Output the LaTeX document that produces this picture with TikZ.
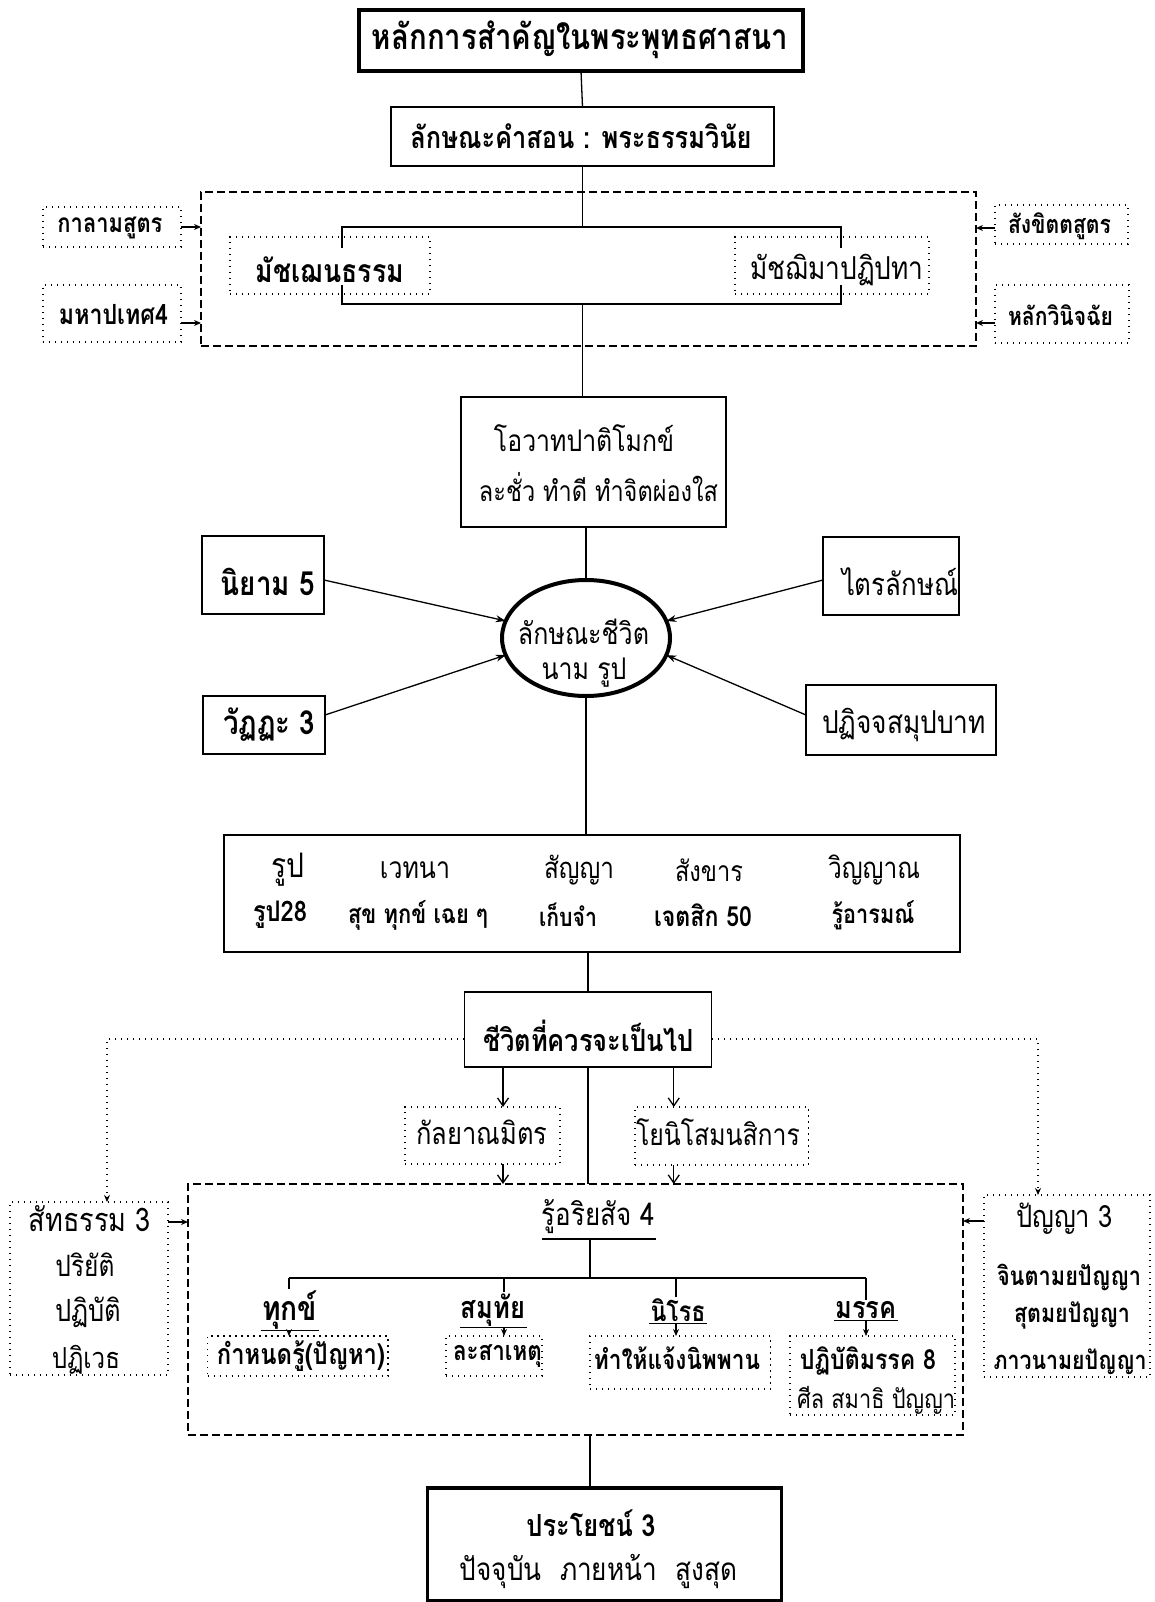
\documentclass[tikz,border=0pt]{standalone}
\usepackage{fontspec}
\newfontfamily\thai[Script=Thai]{Loma}
\usetikzlibrary{shapes.geometric,arrows.meta,calc}
\newcommand{\fw}[2]{\resizebox{#1pt}{!}{\scalebox{1}[1.2]{#2}}}
\begin{document}
\begin{tikzpicture}[x=1pt,y=-1pt,font=\thai,
  box/.style={draw,line width=1.3pt,inner sep=0pt,outer sep=0pt},
  thickbox/.style={draw,line width=3.5pt,inner sep=0pt,outer sep=0pt},
  dotbox/.style={draw,line width=1.1pt,dash pattern=on 1.4pt off 4.6pt,inner sep=0pt,outer sep=0pt},
  dashbox/.style={draw,line width=1.3pt,dash pattern=on 8pt off 4pt,inner sep=0pt,outer sep=0pt},
  txt/.style={inner sep=0pt,outer sep=0pt},
  hd/.style={inner sep=1.5pt,outer sep=0pt},
  ln/.style={line width=1.3pt},
  dotln/.style={line width=1.1pt,dash pattern=on 1.4pt off 4.6pt},
  arr/.style={ln,-{Stealth[length=10pt,width=7pt]}},
  sarr/.style={ln,-{Stealth[length=7pt,width=6pt]}},
  varr/.style={ln,-{Straight Barb[length=8pt,width=11pt]}}]
\fill[white] (0,0) rectangle (1155,1602);
\useasboundingbox (0,0) rectangle (1155,1602);

% ---------- top part ----------
\node[thickbox,minimum width=444pt,minimum height=61pt] (title) at (581,40.5) {};
\node[txt] (ttitle) at (580,40) {\fw{416}{\bfseries หลักการสำคัญในพระพุทธศาสนา}};
\node[box,minimum width=383pt,minimum height=59pt] (lak) at (582.5,136.5) {};
\node[txt] (tlak) at (581,136) {\fw{341}{\bfseries ลักษณะคำสอน : พระธรรมวินัย}};
\draw[ln] (title.south) -- (lak.north);

\node[dashbox,minimum width=775pt,minimum height=154pt] (dbox1) at (588.5,269) {};
\node[dotbox,minimum width=138pt,minimum height=40pt] (kalama) at (112,227) {};
\node[txt] (tkalama) at (110,228) {\fw{105}{\bfseries กาลามสูตร}};
\node[dotbox,minimum width=138pt,minimum height=57pt] (maha) at (112,313.5) {};
\node[txt] (tmaha) at (113.5,315) {\fw{109}{\bfseries มหาปเทศ4}};
\node[dotbox,minimum width=133pt,minimum height=39pt] (sank) at (1061.5,224.5) {};
\node[txt] (tsank) at (1059.5,226) {\fw{103}{\bfseries สังขิตตสูตร}};
\node[dotbox,minimum width=134pt,minimum height=58pt] (vini) at (1062,314) {};
\node[txt] (tvini) at (1060.5,315) {\fw{105}{\bfseries หลักวินิจฉัย}};
\node[dotbox,minimum width=200pt,minimum height=57pt] (majjhena) at (330,265.5) {};
\node[txt] (tmajjhena) at (330,270) {\fw{148}{\bfseries มัชเฌนธรรม}};
\node[dotbox,minimum width=194pt,minimum height=57pt] (majjhima) at (832,265.5) {};
\node[txt] (tmajjhima) at (837,270) {\fw{173}{มัชฌิมาปฏิปทา}};

\coordinate (m1) at ($(maha.east)+(0,9.5)$);
\coordinate (s1) at ($(sank.west)+(0,3.5)$);
\coordinate (v1) at ($(vini.west)+(0,9)$);
\draw[sarr] (kalama.east) -- (kalama.east -| dbox1.west);
\draw[sarr] (m1) -- (m1 -| dbox1.west);
\draw[sarr] (s1) -- (s1 -| dbox1.east);
\draw[sarr] (v1) -- (v1 -| dbox1.east);

\coordinate (bt) at (582.5,227);
\coordinate (btl) at (342,227); \coordinate (btr) at (841,227);
\coordinate (btl2) at (342,248); \coordinate (btr2) at (841,248);
\coordinate (bb) at (582.5,304);
\coordinate (bbl) at (342,304); \coordinate (bbr) at (841,304);
\coordinate (bbl2) at (342,285); \coordinate (bbr2) at (841,285);
\draw[ln] (lak.south) -- (bt);
\draw[line width=1.6pt] (btl2) -- (btl) -- (btr) -- (btr2);
\draw[line width=1.6pt] (bbl2) -- (bbl) -- (bbr) -- (bbr2);

% ---------- middle ----------
\node[box,minimum width=265pt,minimum height=130pt] (ovada) at (593.5,462) {};
\node[txt] (tovada1) at (584,438) {\fw{180}{โอวาทปาติโมกข์}};
\node[txt] (tovada2) at (598.5,487) {\fw{239}{ละชั่ว ทำดี ทำจิตผ่องใส}};
\draw[ln] (bb) -- (bb |- ovada.north);

\node[ellipse,draw,line width=4pt,minimum width=168pt,minimum height=116pt,inner sep=0pt,outer sep=0pt] (ell) at (586,638) {};
\node[txt] (tell1) at (583.5,632) {\fw{131}{ลักษณะชีวิต}};
\node[txt] (tell2) at (584,673) {\fw{85}{นาม รูป}};
\draw[ln] (ovada.south -| ell.north) -- (ell.north);

\node[box,minimum width=122pt,minimum height=78pt] (niyama) at (263,575) {};
\node[txt] (tniyama) at (268,582) {\fw{94}{\bfseries นิยาม 5}};
\node[box,minimum width=122pt,minimum height=58pt] (vatta) at (264,725) {};
\node[txt] (tvatta) at (269,725) {\fw{92}{\bfseries วัฏฏะ 3}};
\node[box,minimum width=136pt,minimum height=78pt] (trilak) at (891,576) {};
\node[txt] (ttrilak) at (900,582) {\fw{116}{ไตรลักษณ์}};
\node[box,minimum width=190pt,minimum height=70pt] (paticca) at (901,720) {};
\node[txt] (tpaticca) at (904,725) {\fw{164}{ปฏิจจสมุปบาท}};

\draw[arr] ($(niyama.east)+(0,5)$) -- (ell.168);
\draw[arr] ($(vatta.east)+(0,-10)$) -- (ell.192);
\draw[arr] ($(trilak.west)+(0,4)$) -- (ell.12);
\draw[arr] ($(paticca.west)+(0,-5)$) -- (ell.348);

\node[box,minimum width=736pt,minimum height=117pt] (khandha) at (592,893.5) {};
\node[txt] (k1a) at (287.5,870) {\fw{33}{รูป}};
\node[txt] (k2a) at (415,870) {\fw{70}{เวทนา}};
\node[txt] (k3a) at (579,870) {\fw{70}{สัญญา}};
\node[txt] (k4a) at (709,870) {\fw{68}{สังขาร}};
\node[txt] (k5a) at (874,870) {\fw{92}{วิญญาณ}};
\node[txt] (k1b) at (280,915) {\fw{54}{\bfseries รูป28}};
\node[txt] (k2b) at (418,915) {\fw{140}{\bfseries สุข ทุกข์ เฉย ๆ}};
\node[txt] (k3b) at (568,915) {\fw{58}{\bfseries เก็บจำ}};
\node[txt] (k4b) at (703,915) {\fw{98}{\bfseries เจตสิก 50}};
\node[txt] (k5b) at (873,915) {\fw{83}{\bfseries รู้อารมณ์}};
\draw[ln] (ell.south) -- (ell.south |- khandha.north);

\node[box,minimum width=247.5pt,minimum height=75pt] (chiwit) at (588,1029.5) {};
\node[txt] (tchiwit) at (588.5,1036) {\fw{211}{\bfseries ชีวิตที่ควรจะเป็นไป}};
\draw[ln] (chiwit.north) -- (chiwit.north |- khandha.south);

\node[dotbox,minimum width=155pt,minimum height=57pt] (kalyana) at (482.5,1135.5) {};
\node[txt] (tkalyana) at (482,1132) {\fw{131}{กัลยาณมิตร}};
\node[dotbox,minimum width=173.5pt,minimum height=58pt] (yoniso) at (721.75,1136) {};
\node[txt] (tyoniso) at (718,1132) {\fw{164}{โยนิโสมนสิการ}};

% ---------- lower part ----------
\node[dashbox,minimum width=775pt,minimum height=251pt] (dbox2) at (575.5,1309.5) {};
\draw[ln] (chiwit.south) -- (chiwit.south |- dbox2.north);

\coordinate (ka) at ($(kalyana.north)+(20.5,0)$);
\coordinate (kb) at ($(kalyana.south)+(20.5,0)$);
\coordinate (ya) at ($(yoniso.north)+(-48,0)$);
\coordinate (yb) at ($(yoniso.south)+(-48,0)$);
\draw[varr] (ka |- chiwit.south) -- (ka);
\draw[varr] (kb) -- (kb |- dbox2.north);
\draw[varr] (ya |- chiwit.south) -- (ya);
\draw[varr] (yb) -- (yb |- dbox2.north);

\node[dotbox,minimum width=158pt,minimum height=173pt] (saddhamma) at (89,1288.5) {};
\node[txt] (ts1) at (90,1219) {\fw{122}{สัทธรรม 3}};
\node[txt] (ts2) at (85,1265) {\fw{59}{ปริยัติ}};
\node[txt] (ts3) at (88.5,1312) {\fw{66}{ปฏิบัติ}};
\node[txt] (ts4) at (86,1360) {\fw{68}{ปฏิเวธ}};
\node[dotbox,minimum width=166pt,minimum height=182pt] (panna) at (1067,1286) {};
\node[txt] (tp1) at (1064.5,1219) {\fw{97}{ปัญญา 3}};
\node[txt] (tp2) at (1069,1277) {\fw{144}{\bfseries จินตามยปัญญา}};
\node[txt] (tp3) at (1072,1315) {\fw{116}{\bfseries สุตมยปัญญา}};
\node[txt] (tp4) at (1070,1362) {\fw{153}{\bfseries ภาวนามยปัญญา}};

\coordinate (cl) at ($(chiwit.west)+(0,9.5)$);
\coordinate (cr) at ($(chiwit.east)+(0,9.5)$);
\draw[dotln,-{Stealth[length=7pt,width=6pt]}] (cl) -| ($(saddhamma.north)+(18,0)$);
\draw[dotln,-{Stealth[length=7pt,width=6pt]}] (cr) -| ($(panna.north)+(-29,0)$);
\coordinate (sd1) at ($(saddhamma.north east)+(0,20)$);
\coordinate (pn1) at ($(panna.north west)+(0,26)$);
\draw[sarr] (sd1) -- (sd1 -| dbox2.west);
\draw[sarr] (pn1) -- (pn1 -| dbox2.east);

\node[txt] (tariya) at (598,1217) {\fw{113}{รู้อริยสัจ 4}};
\coordinate (ul1) at (542,1239); \coordinate (ul2) at (656,1239);
\draw[line width=2.4pt] (ul1) -- (ul2);
\coordinate (ulc) at (590,1239);
\coordinate (brc) at (590,1278);
\coordinate (br1) at (289,1278); \coordinate (br2) at (504,1278);
\coordinate (br3) at (676,1278); \coordinate (br4) at (866,1278);
\draw[ln] (ulc) -- (brc);
\draw[line width=1.8pt] (br1) -- (br4);

\node[hd] (h1) at (289.5,1310) {\fw{55}{\bfseries ทุกข์}};
\node[hd] (h2) at (493,1310) {\fw{64}{\bfseries สมุทัย}};
\node[hd] (h3) at (678,1310) {\fw{55}{\bfseries นิโรธ}};
\node[hd] (h4) at (866,1310) {\fw{61}{\bfseries มรรค}};
\foreach \h in {h1,h2,h3,h4} {\draw[line width=1pt] (\h.south west) -- (\h.south east);}

\node[dotbox,minimum width=180.5pt,minimum height=40pt] (b1) at (297.75,1356) {};
\node[txt] (tb1) at (301,1356) {\fw{168}{\bfseries กำหนดรู้(ปัญหา)}};
\node[dotbox,minimum width=96pt,minimum height=40pt] (b2) at (494,1356) {};
\node[txt] (tb2) at (497.5,1356) {\fw{89}{\bfseries ละสาเหตุ}};
\node[dotbox,minimum width=180.5pt,minimum height=53pt] (b3) at (680.25,1362.5) {};
\node[txt] (tb3) at (677,1358) {\fw{166}{\bfseries ทำให้แจ้งนิพพาน}};
\node[dotbox,minimum width=165pt,minimum height=79pt] (b4) at (872.5,1375.5) {};
\node[txt] (tb4a) at (868,1361) {\fw{136}{\bfseries ปฏิบัติมรรค 8}};
\node[txt] (tb4b) at (876,1400) {\fw{158}{ศีล สมาธิ ปัญญา}};

\draw[ln] (br1) -- (br1 |- h1.north);
\draw[ln] (br2) -- (br2 |- h2.north);
\draw[ln] (br3) -- (br3 |- h3.north);
\draw[ln] (br4) -- (br4 |- h4.north);
\draw[sarr] (br1 |- h1.south) -- (br1 |- b1.north);
\draw[sarr] (br2 |- h2.south) -- (br2 |- b2.north);
\draw[sarr] (br3 |- h3.south) -- (br3 |- b3.north);
\draw[sarr] (br4 |- h4.south) -- (br4 |- b4.north);

\node[thickbox,minimum width=354pt,minimum height=113pt] (prayot) at (604.5,1544.5) {};
\node[txt] (tpr1) at (591,1523) {\fw{129}{\bfseries ประโยชน์ 3}};
\node[txt] (tpr2) at (598.5,1571) {\fw{277}{ปัจจุบัน\hspace{0.7em}ภายหน้า\hspace{0.7em}สูงสุด}};
\coordinate (pl) at (590,1435);
\draw[ln] (pl) -- (pl |- prayot.north);
\end{tikzpicture}
\end{document}
